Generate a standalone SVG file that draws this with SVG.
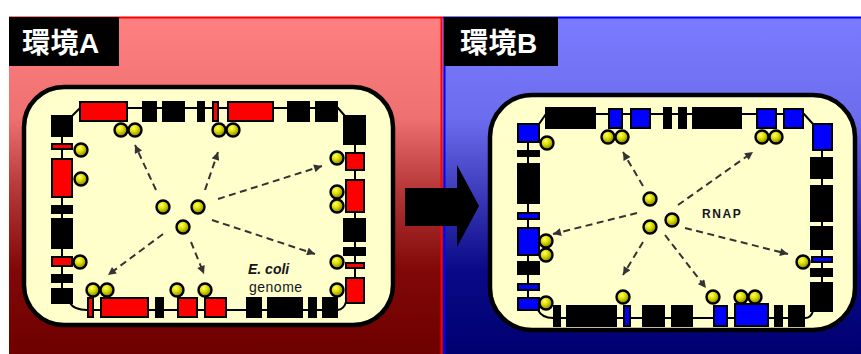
<svg xmlns="http://www.w3.org/2000/svg" width="861" height="354" viewBox="0 0 861 354">
  <defs>
    <linearGradient id="bgA" x1="0" y1="0" x2="0" y2="1">
      <stop offset="0" stop-color="#ff8080"/>
      <stop offset="0.3" stop-color="#ee7070"/>
      <stop offset="0.5" stop-color="#b83a3a"/>
      <stop offset="0.75" stop-color="#820808"/>
      <stop offset="1" stop-color="#6e0000"/>
    </linearGradient>
    <linearGradient id="bgB" x1="0" y1="0" x2="0" y2="1">
      <stop offset="0" stop-color="#7b7bff"/>
      <stop offset="0.3" stop-color="#6c6cee"/>
      <stop offset="0.5" stop-color="#4040c0"/>
      <stop offset="0.75" stop-color="#0a0a88"/>
      <stop offset="1" stop-color="#000070"/>
    </linearGradient>
    <radialGradient id="ball" cx="0.4" cy="0.35" r="0.65">
      <stop offset="0" stop-color="#ffff70"/>
      <stop offset="0.45" stop-color="#dcdc00"/>
      <stop offset="1" stop-color="#808000"/>
    </radialGradient>
    <marker id="head" viewBox="0 0 10 10" refX="10" refY="5" markerWidth="9" markerHeight="8" markerUnits="userSpaceOnUse" orient="auto">
      <path d="M0 0 L10 5 L0 10 Z" fill="#333"/>
    </marker>
    <style>
      .cell { fill: #ffffcc; stroke: #000; stroke-width: 4.5; }
      .bb { fill: none; stroke: #000; stroke-width: 2; }
      .k { fill: #000; }
      .r { fill: #ff0000; stroke: #000; stroke-width: 2; }
      .b { fill: #0000ff; stroke: #000; stroke-width: 2; }
      .rnap { fill: url(#ball); stroke: #000; stroke-width: 2.4; }
      .arr { fill: none; stroke: #333; stroke-width: 2; stroke-dasharray: 7 4.5; marker-end: url(#head); }
      .title { font-family: "Liberation Sans", "Noto Sans CJK JP", sans-serif; font-weight: bold; font-size: 28px; letter-spacing: 0.5px; fill: #fff; }
      .lbl { font-family: "Liberation Sans", Arial, sans-serif; fill: #14141c; }
    </style>
  </defs>

  <rect width="861" height="354" fill="#fff"/>

  <!-- environment A -->
  <g id="panelA">
    <rect x="9" y="17" width="434" height="337" fill="url(#bgA)"/>
    <line x1="9" y1="17.5" x2="443" y2="17.5" stroke="#ff0000" stroke-width="2"/>
    <line x1="441.5" y1="17" x2="441.5" y2="354" stroke="#ff0000" stroke-width="2"/>
    <rect x="9" y="17" width="110" height="49" fill="#000"/>
    <text class="title" x="22" y="53">環境A</text>
  </g>

  <!-- environment B -->
  <g id="panelB">
    <rect x="443" y="17" width="418" height="337" fill="url(#bgB)"/>
    <line x1="443" y1="17.5" x2="861" y2="17.5" stroke="#0000ff" stroke-width="2"/>
    <line x1="444.5" y1="17" x2="444.5" y2="354" stroke="#0000ff" stroke-width="2"/>
    <rect x="444" y="17" width="114" height="49" fill="#000"/>
    <text class="title" x="460" y="53">環境B</text>
  </g>

  <!-- transition arrow -->
  <g id="shift">
    <path d="M405 188 H457 V165 L479 206 L457 247 V226 H405 Z" fill="#000"/>
  </g>

  <!-- cell in environment A -->
  <g id="cellA">
    <rect class="cell" x="24" y="87" width="369" height="238" rx="40"/>
    <g id="genomeA">
      <path class="bb" d="M62 116 V303"/>
      <path class="bb" d="M72 116 L80 108 H338 L345 116"/>
      <path class="bb" d="M355 116 V303"/>
      <path class="bb" d="M70 303 Q74 310 87 310 H338 Q344 309 346 302"/>
      <!-- top row -->
      <rect class="r" x="80" y="102" width="47" height="19"/>
      <rect class="k" x="142" y="101" width="15" height="21"/>
      <rect class="k" x="162" y="101" width="23" height="21"/>
      <rect class="k" x="197" y="101" width="8" height="21"/>
      <rect class="r" x="213" y="102" width="5" height="19"/>
      <rect class="r" x="228" y="102" width="45" height="19"/>
      <rect class="k" x="287" y="101" width="23" height="21"/>
      <rect class="k" x="315" y="101" width="23" height="21"/>
      <!-- left column -->
      <rect class="k" x="51" y="115" width="22" height="22"/>
      <rect class="r" x="52" y="144" width="20" height="5"/>
      <rect class="r" x="52" y="159" width="20" height="38"/>
      <rect class="k" x="51" y="205" width="22" height="9"/>
      <rect class="k" x="51" y="218" width="22" height="31"/>
      <rect class="r" x="52" y="257" width="20" height="9"/>
      <rect class="k" x="51" y="274" width="22" height="9"/>
      <rect class="k" x="51" y="288" width="22" height="16"/>
      <!-- right column -->
      <rect class="k" x="343" y="115" width="23" height="30"/>
      <rect class="r" x="346" y="153" width="18" height="17"/>
      <rect class="r" x="346" y="180" width="18" height="32"/>
      <rect class="k" x="343" y="218" width="23" height="24"/>
      <rect class="k" x="343" y="247" width="23" height="9"/>
      <rect class="r" x="346" y="263" width="18" height="5"/>
      <rect class="r" x="346" y="278" width="18" height="25"/>
      <!-- bottom row -->
      <rect class="r" x="88" y="298" width="5" height="19"/>
      <rect class="r" x="101" y="298" width="47" height="19"/>
      <rect class="k" x="155" y="297" width="9" height="21"/>
      <rect class="r" x="178" y="298" width="19" height="19"/>
      <rect class="r" x="205" y="298" width="21" height="19"/>
      <rect class="k" x="246" y="297" width="16" height="21"/>
      <rect class="k" x="267" y="297" width="36" height="21"/>
      <rect class="k" x="308" y="297" width="9" height="21"/>
      <rect class="k" x="322" y="297" width="16" height="21"/>
    </g>
    <g id="boundA">
      <circle class="rnap" cx="121" cy="130" r="6.5"/>
      <circle class="rnap" cx="135" cy="130" r="6.5"/>
      <circle class="rnap" cx="219" cy="130" r="6.5"/>
      <circle class="rnap" cx="233" cy="130" r="6.5"/>
      <circle class="rnap" cx="81" cy="150" r="6.5"/>
      <circle class="rnap" cx="81" cy="179" r="6.5"/>
      <circle class="rnap" cx="80" cy="262" r="6.5"/>
      <circle class="rnap" cx="93" cy="290" r="6.5"/>
      <circle class="rnap" cx="107" cy="290" r="6.5"/>
      <circle class="rnap" cx="177" cy="290" r="6.5"/>
      <circle class="rnap" cx="205" cy="290" r="6.5"/>
      <circle class="rnap" cx="337" cy="158" r="6.5"/>
      <circle class="rnap" cx="337" cy="192" r="6.5"/>
      <circle class="rnap" cx="337" cy="206" r="6.5"/>
      <circle class="rnap" cx="337" cy="262" r="6.5"/>
      <circle class="rnap" cx="337" cy="290" r="6.5"/>
    </g>
    <g id="freeA">
      <circle class="rnap" cx="163" cy="207" r="6.5"/>
      <circle class="rnap" cx="198" cy="207" r="6.5"/>
      <circle class="rnap" cx="183" cy="227" r="6.5"/>
    </g>
    <text class="lbl" x="248" y="274" font-size="14" font-weight="bold" font-style="italic">E. coli</text>
    <text class="lbl" x="249" y="292" font-size="14" letter-spacing="0.5">genome</text>
  </g>

  <!-- cell in environment B -->
  <g id="cellB">
    <rect class="cell" x="490" y="95" width="365" height="235" rx="42"/>
    <g id="genomeB">
      <path class="bb" d="M528 124 V310"/>
      <path class="bb" d="M539 124 L546 114 H804 L813 124"/>
      <path class="bb" d="M822 124 V312"/>
      <path class="bb" d="M538 310 Q542 318 553 318 H805 Q811 318 813 311"/>
      <!-- top row -->
      <rect class="b" x="518" y="124" width="21" height="18"/>
      <rect class="k" x="545" y="107" width="51" height="22"/>
      <rect class="b" x="609" y="109" width="13" height="19"/>
      <rect class="b" x="631" y="109" width="19" height="19"/>
      <rect class="k" x="663" y="107" width="9" height="22"/>
      <rect class="k" x="678" y="107" width="9" height="22"/>
      <rect class="k" x="692" y="107" width="50" height="22"/>
      <rect class="b" x="757" y="109" width="19" height="19"/>
      <rect class="b" x="784" y="109" width="19" height="19"/>
      <!-- left column -->
      <rect class="k" x="517" y="150" width="23" height="7"/>
      <rect class="k" x="517" y="163" width="23" height="41"/>
      <rect class="b" x="518" y="213" width="21" height="6"/>
      <rect class="b" x="518" y="228" width="21" height="27"/>
      <rect class="k" x="517" y="261" width="23" height="14"/>
      <rect class="b" x="518" y="284" width="21" height="6"/>
      <rect class="b" x="518" y="298" width="21" height="12"/>
      <!-- right column -->
      <rect class="b" x="813" y="124" width="19" height="26"/>
      <rect class="k" x="810" y="157" width="23" height="22"/>
      <rect class="k" x="810" y="185" width="23" height="37"/>
      <rect class="k" x="810" y="226" width="23" height="24"/>
      <rect class="b" x="812" y="257" width="20" height="5"/>
      <rect class="k" x="810" y="268" width="23" height="9"/>
      <rect class="k" x="810" y="282" width="23" height="30"/>
      <!-- bottom row -->
      <rect class="k" x="553" y="305" width="8" height="22"/>
      <rect class="k" x="566" y="305" width="51" height="22"/>
      <rect class="b" x="624" y="306" width="6" height="20"/>
      <rect class="k" x="642" y="305" width="23" height="22"/>
      <rect class="k" x="671" y="305" width="22" height="22"/>
      <rect class="b" x="714" y="306" width="13" height="20"/>
      <rect class="b" x="735" y="304" width="33" height="22"/>
      <rect class="k" x="774" y="305" width="9" height="22"/>
      <rect class="k" x="788" y="305" width="17" height="22"/>
    </g>
    <g id="boundB">
      <circle class="rnap" cx="547" cy="143" r="6.5"/>
      <circle class="rnap" cx="608" cy="137" r="6.5"/>
      <circle class="rnap" cx="622" cy="137" r="6.5"/>
      <circle class="rnap" cx="762" cy="137" r="6.5"/>
      <circle class="rnap" cx="776" cy="137" r="6.5"/>
      <circle class="rnap" cx="546" cy="241" r="6.5"/>
      <circle class="rnap" cx="546" cy="255" r="6.5"/>
      <circle class="rnap" cx="546" cy="303" r="6.5"/>
      <circle class="rnap" cx="623" cy="297" r="6.5"/>
      <circle class="rnap" cx="713" cy="297" r="6.5"/>
      <circle class="rnap" cx="741" cy="297" r="6.5"/>
      <circle class="rnap" cx="755" cy="297" r="6.5"/>
      <circle class="rnap" cx="803" cy="262" r="6.5"/>
    </g>
    <g id="freeB">
      <circle class="rnap" cx="650" cy="199" r="6.5"/>
      <circle class="rnap" cx="650" cy="227" r="6.5"/>
      <circle class="rnap" cx="672" cy="220" r="6.5"/>
    </g>
    <text class="lbl" x="702" y="218" font-size="12" font-weight="bold" letter-spacing="1.6">RNAP</text>
  </g>

  <!-- recruitment of RNAP to promoters -->
  <g id="connectors">
    <path class="arr" d="M156 190 L135 145"/>
    <path class="arr" d="M205 190 L218 152"/>
    <path class="arr" d="M218 199 L322 166"/>
    <path class="arr" d="M212 220 L315 254"/>
    <path class="arr" d="M191 242 L204 274"/>
    <path class="arr" d="M163 234 L108 275"/>

    <path class="arr" d="M643 186 L623 152"/>
    <path class="arr" d="M678 205 L753 152"/>
    <path class="arr" d="M637 213 L553 234"/>
    <path class="arr" d="M643 242 L623 275"/>
    <path class="arr" d="M665 235 L706 288"/>
    <path class="arr" d="M685 228 L788 254"/>
  </g>
</svg>
